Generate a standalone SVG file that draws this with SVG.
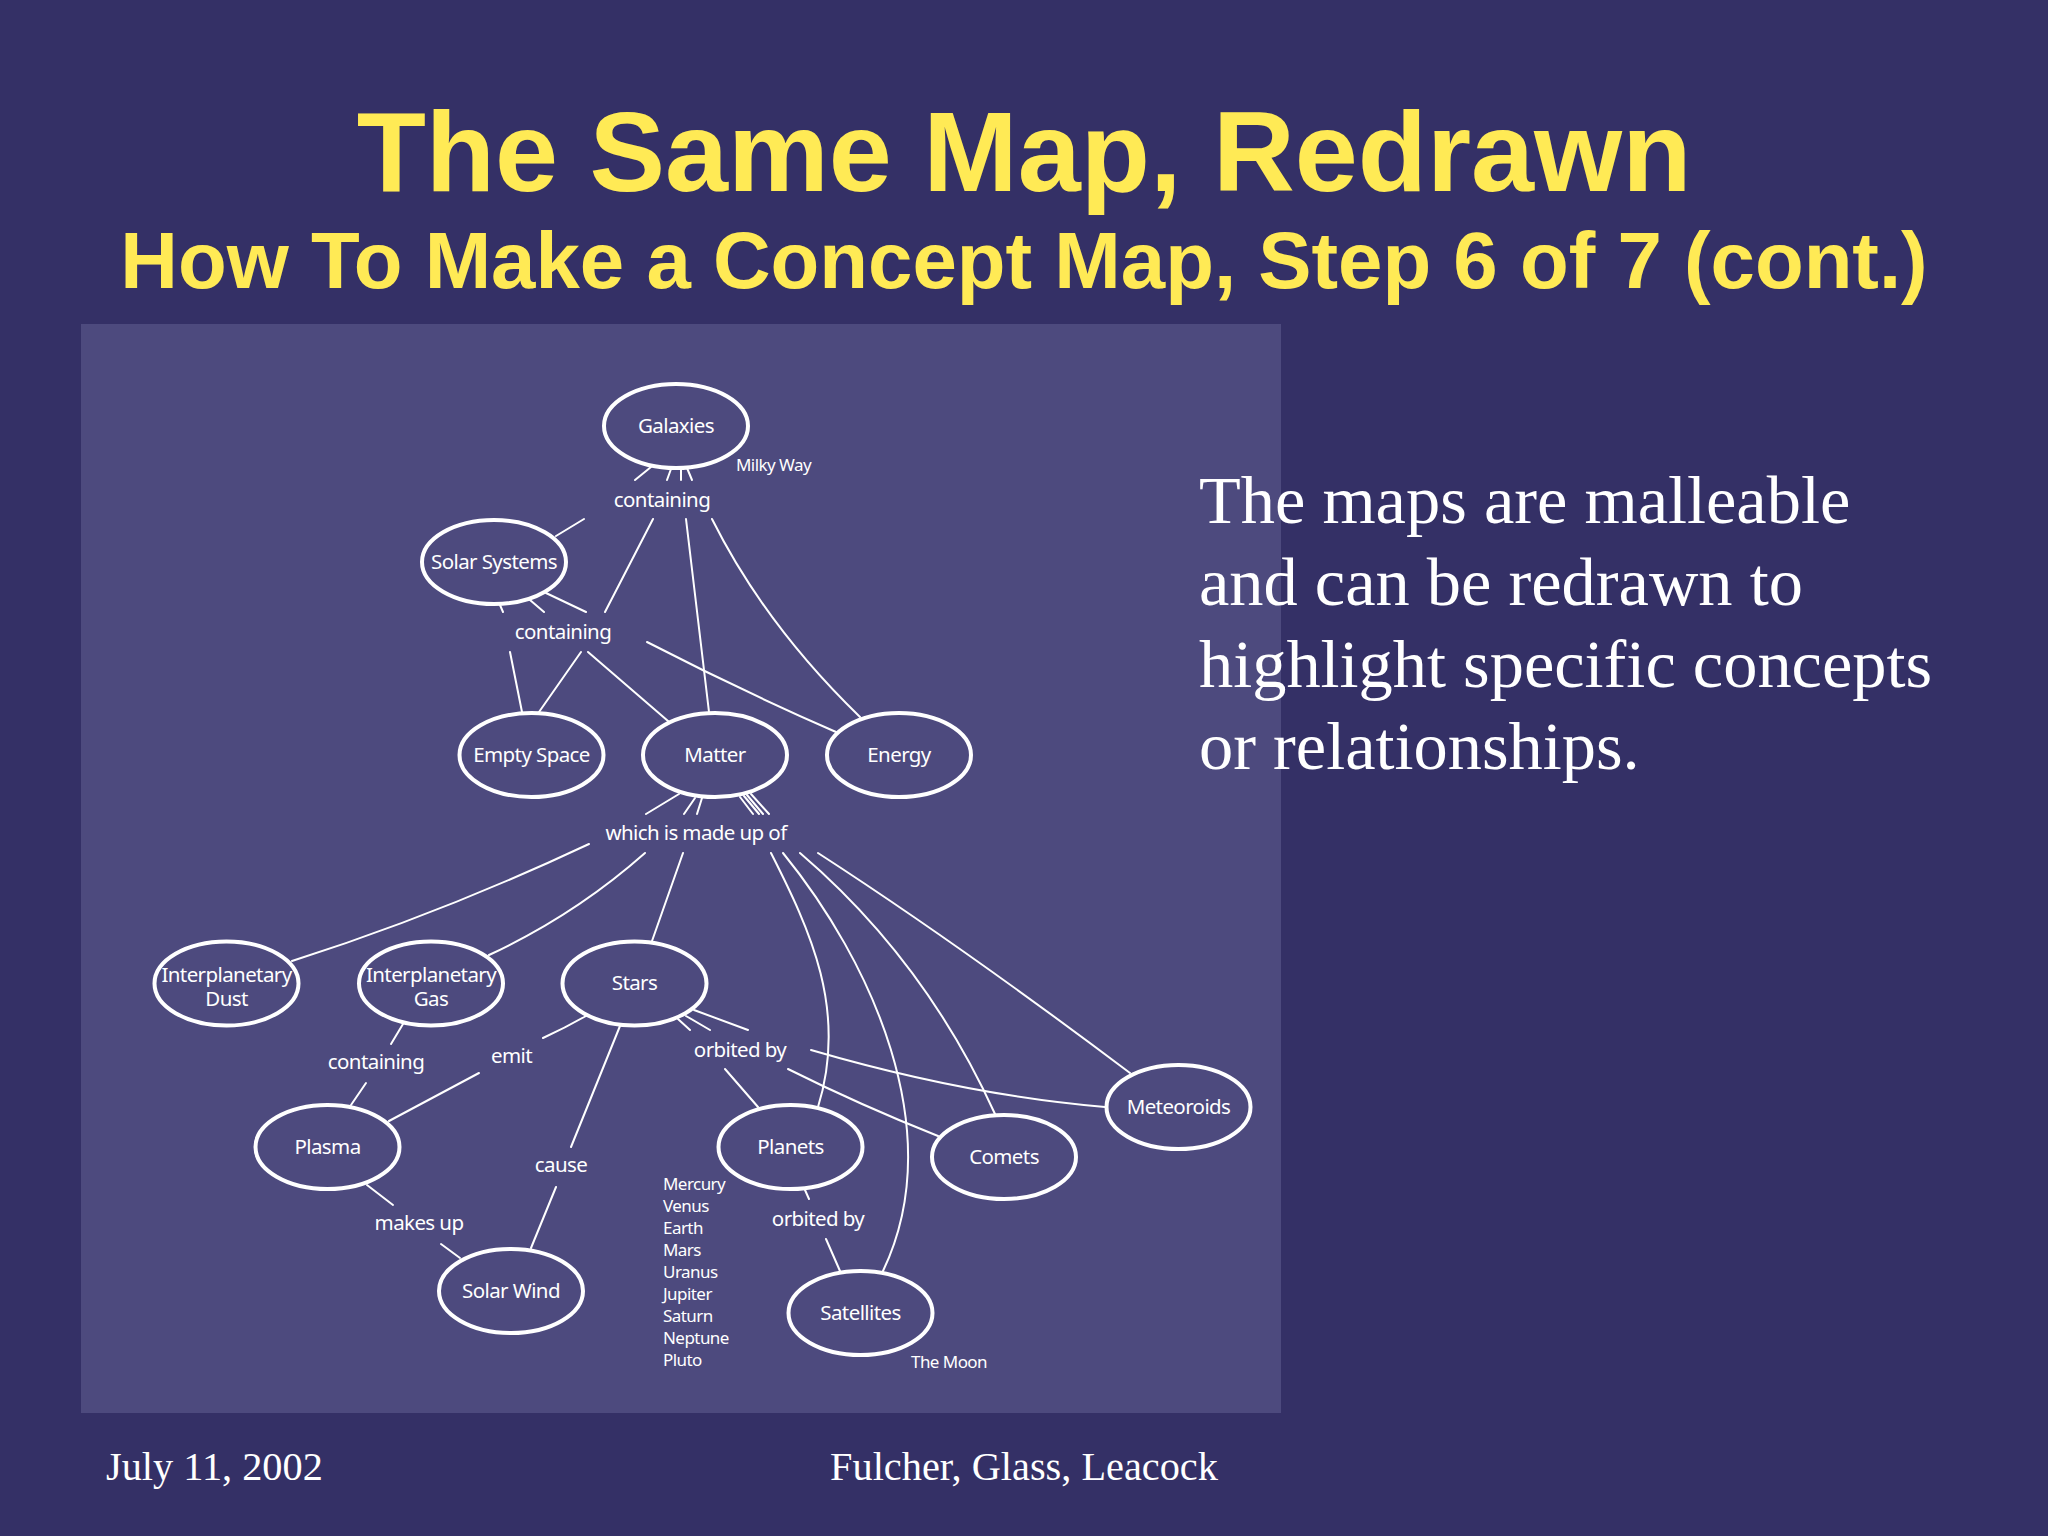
<svg xmlns="http://www.w3.org/2000/svg" width="2048" height="1536" viewBox="0 0 2048 1536">
<style>
.n ellipse{fill:none;stroke:#fff;stroke-width:4}
.t{font-family:"Noto Sans","Liberation Sans",sans-serif;font-size:20.5px;letter-spacing:-.6px;fill:#fff;text-anchor:middle}
.s{font-family:"Noto Sans","Liberation Sans",sans-serif;font-size:17px;letter-spacing:-.55px;fill:#fff}
.h{font-family:"Liberation Sans",Arial,sans-serif;font-weight:700;fill:#FFEA55;text-anchor:middle}
.b{font-family:"Liberation Serif","Times New Roman",serif;fill:#fff}
#connectors path{fill:none;stroke:#fff;stroke-width:2;stroke-linecap:round}
</style>
<rect width="2048" height="1536" fill="#343066"/>
<rect x="81" y="324" width="1200" height="1089" fill="#4D4A7E"/>
<text class="h" x="1024" y="191" font-size="113.3">The Same Map, Redrawn</text>
<text class="h" x="1024" y="287.5" font-size="79.8">How To Make a Concept Map, Step 6 of 7 (cont.)</text>
<g class="b" font-size="68.4"><text x="1199" y="523">The maps are malleable</text><text x="1199" y="605">and can be redrawn to</text><text x="1199" y="687">highlight specific concepts</text><text x="1199" y="769">or relationships.</text></g>
<g class="b" font-size="40.3"><text x="106" y="1480">July 11, 2002</text><text x="1024" y="1480" text-anchor="middle">Fulcher, Glass, Leacock</text></g>
<g id="connectors">
<path d="M651 467L635 480M671 469L667 480M681 469L681 480M687 468L692 480"/>
<path d="M584 519L556 536M653 519L605 612M686 519L709 712M712 519Q765 625 860 717"/>
<path d="M500 605L503 612M530 600L544 612M546 593L586 612"/>
<path d="M510 652L522 712M581 652L539 712M588 652L668 721M647 642Q740 690 836 732"/>
<path d="M679 794L646 814M695 798L684 814M702 798L697 814M740 797L753 814M744 796L759 814M747 795L763 814M751 794L769 814"/>
<path d="M589 844Q440 914 292 961M645 853Q575 915 489 955M683 853L652 941"/>
<path d="M771 853C810 930 848 1010 818 1107M783 853C870 960 950 1130 883 1271M800 853Q925 960 995 1114M818 853Q960 945 1130 1073"/>
<path d="M586 1016Q565 1028 543 1038M620 1026L571 1147M556 1187L531 1248"/>
<path d="M678 1019L690 1030M686 1016L710 1030M694 1010L748 1030"/>
<path d="M403 1024L391 1044M366 1083L351 1105M479 1073L389 1121M367 1185L393 1205M441 1244L460 1258"/>
<path d="M811 1050Q965 1095 1105 1107M788 1069Q860 1105 938 1136M725 1069L758 1107M805 1190L809 1199M826 1239L840 1271"/>
</g>
<g id="galaxies" class="n"><ellipse cx="676" cy="426" rx="72" ry="42"/><text class="t" x="676" y="433">Galaxies</text></g>
<g id="solar-systems" class="n"><ellipse cx="494" cy="562" rx="72" ry="42"/><text class="t" x="494" y="569">Solar Systems</text></g>
<g id="empty-space" class="n"><ellipse cx="531.5" cy="755" rx="72" ry="42"/><text class="t" x="531.5" y="762">Empty Space</text></g>
<g id="matter" class="n"><ellipse cx="715" cy="755" rx="72" ry="42"/><text class="t" x="715" y="762">Matter</text></g>
<g id="energy" class="n"><ellipse cx="899" cy="755" rx="72" ry="42"/><text class="t" x="899" y="762">Energy</text></g>
<g id="interplanetary-dust" class="n"><ellipse cx="226.5" cy="983.5" rx="72" ry="42"/><text class="t" x="226.5" y="982">Interplanetary</text><text class="t" x="226.5" y="1006">Dust</text></g>
<g id="interplanetary-gas" class="n"><ellipse cx="431" cy="983.5" rx="72" ry="42"/><text class="t" x="431" y="982">Interplanetary</text><text class="t" x="431" y="1006">Gas</text></g>
<g id="stars" class="n"><ellipse cx="634.5" cy="983.5" rx="72" ry="42"/><text class="t" x="634.5" y="990">Stars</text></g>
<g id="plasma" class="n"><ellipse cx="327.5" cy="1147" rx="72" ry="42"/><text class="t" x="327.5" y="1154">Plasma</text></g>
<g id="solar-wind" class="n"><ellipse cx="511" cy="1291" rx="72" ry="42"/><text class="t" x="511" y="1298">Solar Wind</text></g>
<g id="planets" class="n"><ellipse cx="790.5" cy="1147" rx="72" ry="42"/><text class="t" x="790.5" y="1154">Planets</text></g>
<g id="comets" class="n"><ellipse cx="1004" cy="1157" rx="72" ry="42"/><text class="t" x="1004" y="1164">Comets</text></g>
<g id="meteoroids" class="n"><ellipse cx="1178.5" cy="1107" rx="72" ry="42"/><text class="t" x="1178.5" y="1114">Meteoroids</text></g>
<g id="satellites" class="n"><ellipse cx="860.5" cy="1313" rx="72" ry="42"/><text class="t" x="860.5" y="1320">Satellites</text></g>
<g id="labels">
<text class="t" x="662" y="507">containing</text>
<text class="t" x="563" y="639">containing</text>
<text class="t" x="696" y="840">which is made up of</text>
<text class="t" x="376" y="1069">containing</text>
<text class="t" x="511.5" y="1063">emit</text>
<text class="t" x="740" y="1057">orbited by</text>
<text class="t" x="561" y="1172">cause</text>
<text class="t" x="419" y="1230">makes up</text>
<text class="t" x="818" y="1226">orbited by</text>
<text class="s" x="736" y="471">Milky Way</text>
<text class="s" x="911" y="1368">The Moon</text>
<g class="s"><text x="663" y="1190">Mercury</text><text x="663" y="1212">Venus</text><text x="663" y="1234">Earth</text><text x="663" y="1256">Mars</text><text x="663" y="1278">Uranus</text><text x="663" y="1300">Jupiter</text><text x="663" y="1322">Saturn</text><text x="663" y="1344">Neptune</text><text x="663" y="1366">Pluto</text></g>
</g>
</svg>
